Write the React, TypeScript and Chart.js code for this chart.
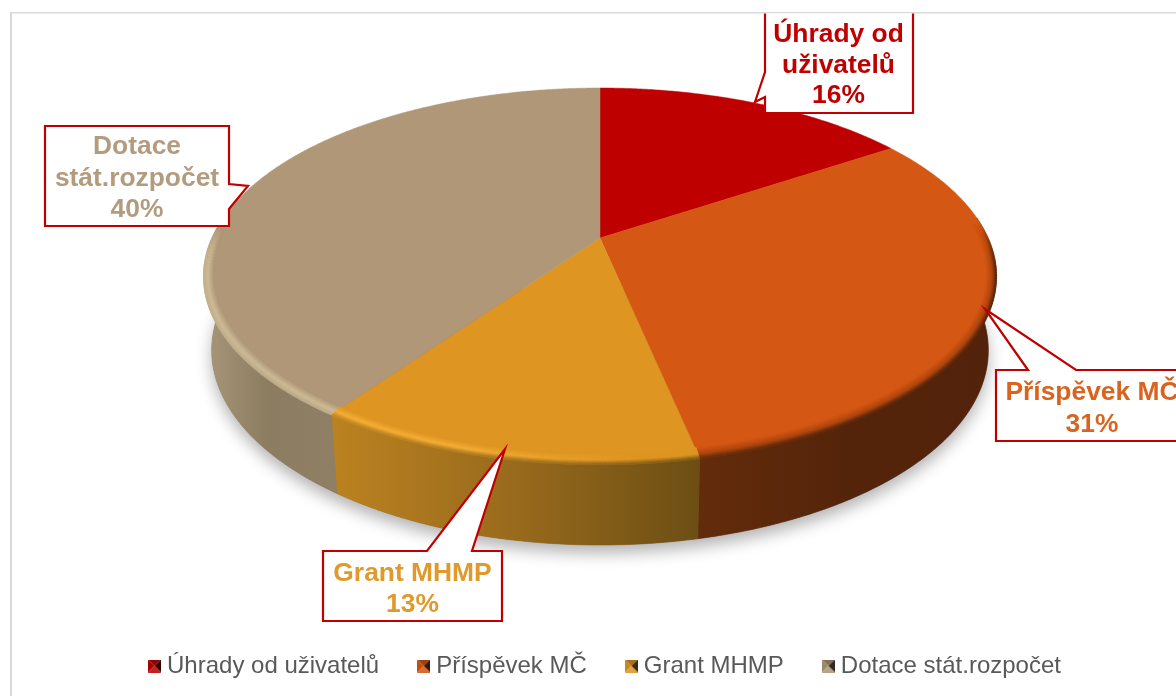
import React, { useEffect, useRef } from "react";
import { Chart, registerables } from "chart.js";

Chart.register(...registerables);

const categories = ["Úhrady od uživatelů", "Příspěvek MČ", "Grant MHMP", "Dotace stát.rozpočet"];
const shares = [15.7, 31.0, 13.1, 40.2];
const faceColors = ["#BE0000", "#D45713", "#DE9522", "#AF9778"];
const labelColors = ["#C00000", "#D9641F", "#E09A2C", "#B39C7D"];
const wallStops = [
  ["#5A0000", "#5A0000", "#5A0000"],
  ["#632C0B", "#54240A", "#52220A"],
  ["#BC8220", "#986A1C", "#6C4E14"],
  ["#A89779", "#8C7C60", "#8F7F64"],
];
const rimLights = ["#BE0000", "#AE4610", "#F4AE36", "#CDBB96"];
const rimEdgeLift = [0, 0.12, 0.2, 0.75];

// perspective view of the pie disc
const VIEW = { apexX: 600, apexY: 238, rx: 388, ry: 180.45, k: -0.203, midY: 276, baseMidY: 350, baseX: 0.98, baseY: 1.035 };

const CALLOUTS = [
  { outline: [[765, 4], [913, 4], [913, 113], [765, 113], [765, 97], [755, 102], [765, 72]], cx: 838.5, lines: [35, 66, 96] },
  { outline: [[996, 370], [1028, 370], [985, 309], [1076, 370], [1200, 370], [1200, 441], [996, 441]], cx: 1092, lines: [393, 425] },
  { outline: [[323, 551], [427, 551], [505, 449], [472, 551], [502, 551], [502, 621], [323, 621]], cx: 412.5, lines: [574, 605] },
  { outline: [[45, 126], [229, 126], [229, 184], [248, 186], [229, 209], [229, 226], [45, 226]], cx: 137, lines: [147, 179, 210] },
];

type RGB = [number, number, number];
const rgb = (h: string): RGB => [parseInt(h.slice(1, 3), 16), parseInt(h.slice(3, 5), 16), parseInt(h.slice(5, 7), 16)];
const mix = (a: RGB, b: RGB, t: number): RGB => [a[0] + (b[0] - a[0]) * t, a[1] + (b[1] - a[1]) * t, a[2] + (b[2] - a[2]) * t];
const css = (c: RGB, al = 1) => `rgba(${Math.round(c[0])},${Math.round(c[1])},${Math.round(c[2])},${al})`;
const clamp = (v: number) => Math.max(0, Math.min(1, v));
const smooth = (a: number, b: number, v: number) => {
  const t = clamp((v - a) / (b - a));
  return t * t * (3 - 2 * t);
};

function facePoint(X: number, Y: number): [number, number] {
  const d = 1 + VIEW.k * Y;
  return [VIEW.apexX + (VIEW.rx * X) / d, VIEW.apexY + (VIEW.ry * Y) / d];
}
function topPoint(angle: number): [number, number] {
  return facePoint(Math.cos(angle), Math.sin(angle));
}
function rimPoint(angle: number, inset: number): [number, number] {
  return facePoint(Math.cos(angle) * (1 - inset * 0.6), Math.sin(angle) * (1 - inset));
}
function basePoint(angle: number): [number, number] {
  const [x, y] = topPoint(angle);
  return [VIEW.apexX + (x - VIEW.apexX) * VIEW.baseX, VIEW.baseMidY + (y - VIEW.midY) * VIEW.baseY];
}
function sweep(start: number, end: number): number[] {
  const n = Math.max(2, Math.ceil((end - start) / 0.008));
  const out: number[] = [];
  for (let i = 0; i <= n; i++) out.push(start + ((end - start) * i) / n);
  return out;
}
const frontSweep = (start: number, end: number) => sweep(start, end).filter((a) => Math.sin(a) > -0.12);

function wallRange(arc: any): [number, number] {
  let lo = Infinity;
  let hi = -Infinity;
  for (const a of frontSweep(arc.startAngle, arc.endAngle)) {
    const x = topPoint(a)[0];
    lo = Math.min(lo, x);
    hi = Math.max(hi, x);
  }
  return [lo, hi];
}
function wallColor(i: number, frac: number): RGB {
  const s = wallStops[i];
  return frac < 0.5 ? mix(rgb(s[0]), rgb(s[1]), frac * 2) : mix(rgb(s[1]), rgb(s[2]), (frac - 0.5) * 2);
}

const discPlugin = {
  id: "disc",
  beforeDraw(chart: any) {
    const { ctx, width, height } = chart;
    ctx.save();
    ctx.fillStyle = "#FFFFFF";
    ctx.fillRect(0, 0, width, height);
    ctx.fillStyle = "#D9D9D9";
    ctx.fillRect(10, 12, width, 1.5);
    ctx.fillRect(10, 12, 2, height);
    ctx.restore();
  },
  beforeDatasetDraw(chart: any) {
    const ctx = chart.ctx;
    const arcs = chart.getDatasetMeta(0).data as any[];
    ctx.save();

    // soft shadow below the disc
    ctx.save();
    ctx.shadowColor = "rgba(0,0,0,0.3)";
    ctx.shadowBlur = 16;
    ctx.shadowOffsetY = 8;
    ctx.fillStyle = "#8a7a60";
    ctx.beginPath();
    frontSweep(0, Math.PI * 2).forEach((a, i) => {
      const p = basePoint(a);
      i ? ctx.lineTo(p[0], p[1]) : ctx.moveTo(p[0], p[1]);
    });
    ctx.closePath();
    ctx.fill();
    ctx.restore();

    // walls
    arcs.forEach((arc, i) => {
      const angles = frontSweep(arc.startAngle, arc.endAngle);
      if (angles.length < 2) return;
      const [lo, hi] = wallRange(arc);
      const g = ctx.createLinearGradient(lo, 0, hi, 0);
      wallStops[i].forEach((c, j) => g.addColorStop(j / 2, c));
      ctx.fillStyle = g;
      ctx.strokeStyle = g;
      ctx.lineWidth = 0.6;
      ctx.beginPath();
      angles.forEach((a, j) => {
        const p = topPoint(a);
        j ? ctx.lineTo(p[0], p[1]) : ctx.moveTo(p[0], p[1]);
      });
      angles
        .slice()
        .reverse()
        .forEach((a) => {
          const p = basePoint(a);
          ctx.lineTo(p[0], p[1]);
        });
      ctx.closePath();
      ctx.fill();
      ctx.stroke();
    });

    // top face
    arcs.forEach((arc, i) => {
      ctx.fillStyle = faceColors[i];
      ctx.strokeStyle = faceColors[i];
      ctx.lineWidth = 0.5;
      ctx.beginPath();
      ctx.moveTo(VIEW.apexX, VIEW.apexY);
      sweep(arc.startAngle, arc.endAngle).forEach((a) => {
        const p = topPoint(a);
        ctx.lineTo(p[0], p[1]);
      });
      ctx.closePath();
      ctx.fill();
      ctx.stroke();
    });

    // rounded front rim
    ctx.lineCap = "butt";
    const rings = 14;
    arcs.forEach((arc, i) => {
      const [lo, hi] = wallRange(arc);
      const base = rgb(faceColors[i]);
      const light = rgb(rimLights[i]);
      const angles = sweep(arc.startAngle, arc.endAngle);
      for (let r = 0; r <= rings; r++) {
        const u = r / rings;
        const inset = 0.038 * (1 - u);
        ctx.lineWidth = 1.6;
        for (let s = 0; s < angles.length - 1; s += 1) {
          const a0 = angles[s];
          const a1 = angles[s + 1];
          const w = smooth(-0.1, 0.2, Math.sin(a0));
          if (w <= 0) continue;
          const p0 = rimPoint(a0, inset);
          const p1 = rimPoint(a1, inset);
          const frac = hi > lo ? clamp((p0[0] - lo) / (hi - lo)) : 0;
          const fade = i === 2 ? clamp((640 - p0[0]) / 180) : 1;
          const lit = mix(base, light, fade);
          const edge = mix(wallColor(i, frac), lit, rimEdgeLift[i]);
          const c = u < 0.6 ? mix(base, lit, u / 0.6) : mix(lit, edge, (u - 0.6) / 0.4);
          ctx.strokeStyle = css(c, w);
          ctx.beginPath();
          ctx.moveTo(p0[0], p0[1]);
          ctx.lineTo(p1[0], p1[1]);
          ctx.stroke();
        }
      }
    });
    ctx.restore();
    return false;
  },
  afterDatasetsDraw(chart: any) {
    const { ctx, width, height } = chart;
    const data = chart.data.datasets[0].data as number[];
    const total = data.reduce((s, v) => s + v, 0);
    ctx.save();
    ctx.beginPath();
    ctx.rect(12, 13.5, width, height);
    ctx.clip();
    CALLOUTS.forEach((box, i) => {
      ctx.beginPath();
      box.outline.forEach((p, j) => (j ? ctx.lineTo(p[0], p[1]) : ctx.moveTo(p[0], p[1])));
      ctx.closePath();
      ctx.fillStyle = "#FFFFFF";
      ctx.fill();
      ctx.strokeStyle = "#C00000";
      ctx.lineWidth = 2.2;
      ctx.lineJoin = "miter";
      ctx.stroke();

      ctx.font = 'bold 26.4px "Liberation Sans", Arial, sans-serif';
      ctx.textAlign = "center";
      ctx.textBaseline = "middle";
      ctx.fillStyle = labelColors[i];
      const words = categories[i].split(" ");
      const rows: string[] = [];
      let row = "";
      words.forEach((w) => {
        const next = row ? row + " " + w : w;
        if (ctx.measureText(next).width > 182 && row) {
          rows.push(row);
          row = w;
        } else row = next;
      });
      rows.push(row);
      rows.push(Math.round((data[i] / total) * 100) + "%");
      rows.forEach((text, j) => ctx.fillText(text, box.cx, box.lines[j]));
    });
    ctx.restore();
  },
};

function legendSwatch(hex: string): HTMLCanvasElement {
  const c = document.createElement("canvas");
  c.width = 13;
  c.height = 13;
  const g = c.getContext("2d")!;
  const base = rgb(hex);
  const tri = (pts: number[][], col: RGB) => {
    g.fillStyle = css(col);
    g.beginPath();
    pts.forEach((p, i) => (i ? g.lineTo(p[0], p[1]) : g.moveTo(p[0], p[1])));
    g.closePath();
    g.fill();
  };
  const black: RGB = [0, 0, 0];
  const white: RGB = [255, 255, 255];
  tri([[0, 0], [13, 0], [6.5, 6.5]], mix(base, black, 0.25));
  tri([[0, 0], [0, 13], [6.5, 6.5]], mix(base, black, 0.1));
  tri([[13, 0], [13, 13], [6.5, 6.5]], mix(base, black, 0.72));
  tri([[0, 13], [13, 13], [6.5, 6.5]], mix(base, white, 0.12));
  return c;
}

export default function App() {
  const ref = useRef<HTMLCanvasElement>(null);
  useEffect(() => {
    const chart = new Chart(ref.current!, {
      type: "pie",
      data: {
        labels: categories,
        datasets: [{ data: shares, backgroundColor: faceColors, borderWidth: 0 }],
      },
      plugins: [discPlugin],
      options: {
        responsive: false,
        animation: false,
        devicePixelRatio: 1,
        layout: { padding: { left: 39, right: 0, top: 0, bottom: 8 } },
        plugins: {
          tooltip: { enabled: false },
          legend: {
            position: "bottom",
            labels: {
              usePointStyle: true,
              boxWidth: 1,
              padding: 44,
              color: "#595959",
              font: { family: '"Liberation Sans", Arial, sans-serif', size: 24 },
              generateLabels: () =>
                categories.map((text, i) => ({
                  text,
                  pointStyle: legendSwatch(faceColors[i]) as any,
                  fontColor: "#595959",
                  hidden: false,
                  index: i,
                  datasetIndex: 0,
                  lineWidth: 0,
                })),
            },
          },
        },
      } as any,
    });
    return () => chart.destroy();
  }, []);
  return (
    <div style={{ position: "fixed", left: 0, top: 0, width: 1176, height: 696, overflow: "hidden", background: "#fff" }}>
      <canvas ref={ref} width={1176} height={696} style={{ display: "block" }} />
    </div>
  );
}
